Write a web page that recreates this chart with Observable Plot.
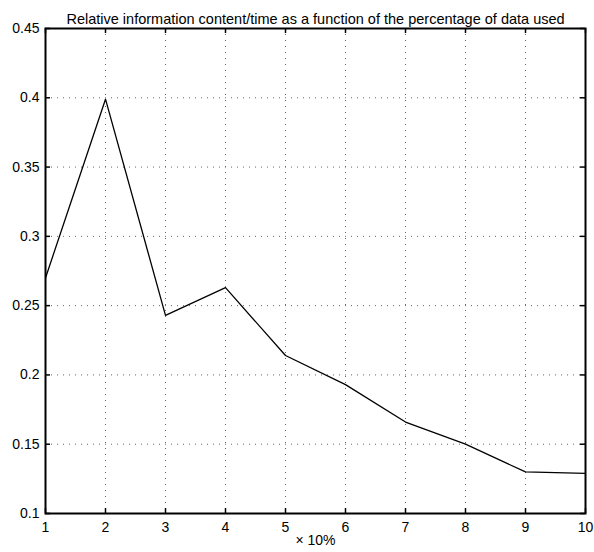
<!DOCTYPE html>
<html>
<head>
<meta charset="utf-8">
<script src="https://cdn.jsdelivr.net/npm/d3@7"></script>
<script src="https://cdn.jsdelivr.net/npm/@observablehq/plot@0.6"></script>
<style>
  html, body { margin: 0; padding: 0; background: #fff; }
  #chart svg { display: block; }
</style>
</head>
<body>
<div id="chart"></div>
<script>
const title = "Relative information content/time as a function of the percentage of data used";
const xLabel = "× 10%";
const xValues = [1, 2, 3, 4, 5, 6, 7, 8, 9, 10];
const yValues = [0.270, 0.399, 0.243, 0.263, 0.214, 0.193, 0.166, 0.150, 0.130, 0.129];
const xTicks = [1, 2, 3, 4, 5, 6, 7, 8, 9, 10];
const yTicks = [0.1, 0.15, 0.2, 0.25, 0.3, 0.35, 0.4, 0.45];
const yTickLabels = ["0.1", "0.15", "0.2", "0.25", "0.3", "0.35", "0.4", "0.45"];

const data = xValues.map((x, i) => ({x, y: yValues[i]}));

const W = 594, H = 552;
const mTop = 28, mBottom = 39, mLeft = 45, mRight = 9;
const innerH = H - mTop - mBottom;
const innerW = W - mLeft - mRight;
const tick = 5;
const font = "'Liberation Sans', Arial, Helvetica, sans-serif";

const chart = Plot.plot({
  width: W,
  height: H,
  marginTop: mTop,
  marginBottom: mBottom,
  marginLeft: mLeft,
  marginRight: mRight,
  style: {fontFamily: font, fontSize: "12px", color: "#000", background: "#fff"},
  x: {domain: [1, 10], ticks: xTicks, label: null},
  y: {domain: [0.1, 0.45], ticks: yTicks, label: null},
  marks: [
    Plot.gridX(xTicks.slice(1, -1), {stroke: "#666", strokeOpacity: 1, strokeWidth: 1, strokeDasharray: "1,5"}),
    Plot.gridY(yTicks.slice(1, -1), {stroke: "#666", strokeOpacity: 1, strokeWidth: 1, strokeDasharray: "1,5"}),
    Plot.line(data, {x: "x", y: "y", stroke: "#000", strokeWidth: 1.3}),
    // inward ticks on all four sides
    Plot.ruleX(xTicks, {x: d => d, insetBottom: innerH - tick, stroke: "#000", strokeWidth: 1.5}),
    Plot.ruleX(xTicks, {x: d => d, insetTop: innerH - tick, stroke: "#000", strokeWidth: 1.5}),
    Plot.ruleY(yTicks, {y: d => d, insetRight: innerW - tick, stroke: "#000", strokeWidth: 1.5}),
    Plot.ruleY(yTicks, {y: d => d, insetLeft: innerW - tick, stroke: "#000", strokeWidth: 1.5}),
    Plot.frame({stroke: "#000", strokeWidth: 2}),
    Plot.axisX(xTicks, {anchor: "bottom", tickSize: 0, tickPadding: 9, fontSize: 14, label: null}),
    Plot.axisY(yTicks, {anchor: "left", tickSize: 0, tickPadding: 6, fontSize: 14, label: null,
      tickFormat: (d, i) => yTickLabels[i]}),
    Plot.text([xLabel], {frameAnchor: "bottom", dy: 31, text: d => d, fontSize: 14, fill: "#000"}),
    Plot.text([title], {frameAnchor: "top", dy: -15, text: d => d, fontSize: 14.5, fill: "#000"})
  ]
});
document.getElementById("chart").appendChild(chart);
</script>
</body>
</html>
